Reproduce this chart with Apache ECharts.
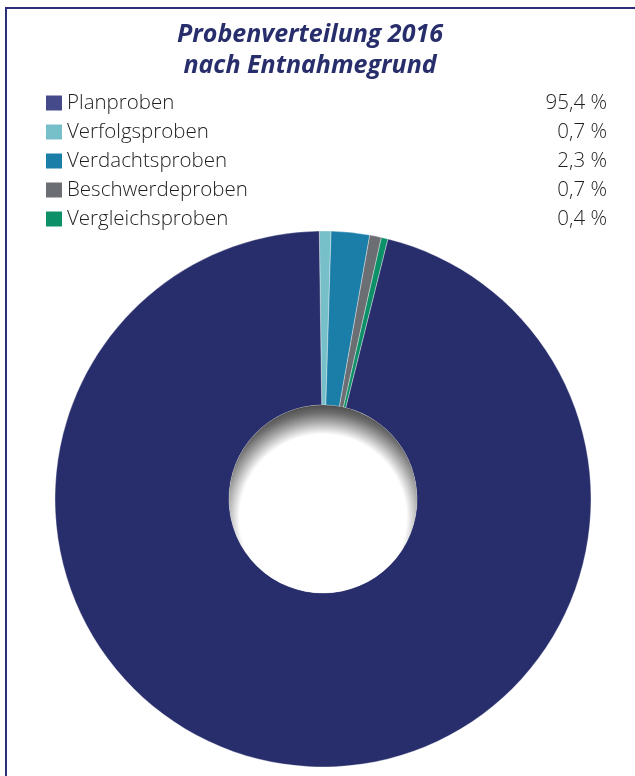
<!DOCTYPE html>
<html>
<head>
<meta charset="utf-8">
<script src="https://cdn.jsdelivr.net/npm/echarts@6/dist/echarts.min.js"></script>
<style>
html,body{margin:0;padding:0;background:#fff;}
#chart{width:635px;height:776px;}
</style>
</head>
<body>
<div id="chart"></div>
<script>
// Legend / data order
const categories = ['Planproben', 'Verfolgsproben', 'Verdachtsproben', 'Beschwerdeproben', 'Vergleichsproben'];
const values = [95.4, 0.7, 2.3, 0.7, 0.4];
const colors = ['#272e6b', '#78c0c9', '#1a7ea8', '#6b6e72', '#0c9068'];
const legendColors = ['#454a8a', '#78c0c9', '#1a7ea8', '#6b6e72', '#0c9068'];
// drawing order clockwise from top
const drawOrder = ['Verfolgsproben', 'Verdachtsproben', 'Beschwerdeproben', 'Vergleichsproben', 'Planproben'];

const fmt = v => v.toFixed(1).replace('.', ',') + ' %';

const chart = echarts.init(document.getElementById('chart'), null, {renderer: 'canvas'});

const pieData = drawOrder.map(n => {
  const i = categories.indexOf(n);
  return {name: n, value: values[i], itemStyle: {color: colors[i]}};
});

const txt = {fontFamily: "'Open Sans', sans-serif", fontWeight: 300, fontSize: 20.5, color: '#1e1e1e', lineHeight: 22};

const option = {
  animation: false,
  title: {
    text: 'Probenverteilung 2016\nnach Entnahmegrund',
    left: 310,
    textAlign: 'center',
    top: 19,
    padding: 0,
    textStyle: {
      fontFamily: "'Open Sans', sans-serif",
      fontStyle: 'italic',
      fontWeight: 'bold',
      fontSize: 25,
      lineHeight: 31,
      color: '#272e6b'
    }
  },
  legend: {
    orient: 'vertical',
    left: 46,
    top: 92,
    padding: 0,
    itemWidth: 16,
    itemHeight: 15,
    itemGap: 7,
    itemTextGap: 12,
    icon: 'rect',
    selectedMode: false,
    data: categories.map((n, i) => ({name: n, itemStyle: {color: legendColors[i], borderWidth: 0}})),
    formatter: function (name) {
      const i = categories.indexOf(name);
      return '{n|' + name + '}{v|' + fmt(values[i]) + '}';
    },
    textStyle: Object.assign({}, txt, {
      rich: {
        n: Object.assign({width: 440}, txt),
        v: Object.assign({width: 100, align: 'right'}, txt)
      }
    })
  },
  graphic: [
    {
      type: 'polyline',
      silent: true,
      shape: {points: [[6, 800], [6, 8], [640, 8]]},
      style: {stroke: '#2a2f77', lineWidth: 2, fill: null}
    }
  ],
  series: [
    {
      type: 'pie',
      center: [323, 499],
      radius: [94, 268],
      startAngle: 90.8,
      clockwise: true,
      silent: true,
      label: {show: false},
      labelLine: {show: false},
      itemStyle: {borderColor: 'rgba(255,255,255,0.6)', borderWidth: 0.6},
      data: pieData
    },
    {
      type: 'pie',
      center: [323, 499],
      radius: [0, 94],
      silent: true,
      label: {show: false},
      labelLine: {show: false},
      legendHoverLink: false,
      data: [{
        name: '_hole',
        value: 1,
        itemStyle: {
          color: {
            type: 'radial', x: 0.5, y: 0.6, r: 0.6,
            colorStops: [
              {offset: 0, color: '#ffffff'},
              {offset: 0.74, color: '#ffffff'},
              {offset: 0.85, color: '#a8a8a8'},
              {offset: 0.93, color: '#6e6e6e'},
              {offset: 1, color: '#4e4e4e'}
            ]
          }
        }
      }]
    }
  ]
};
chart.setOption(option);
</script>
</body>
</html>
